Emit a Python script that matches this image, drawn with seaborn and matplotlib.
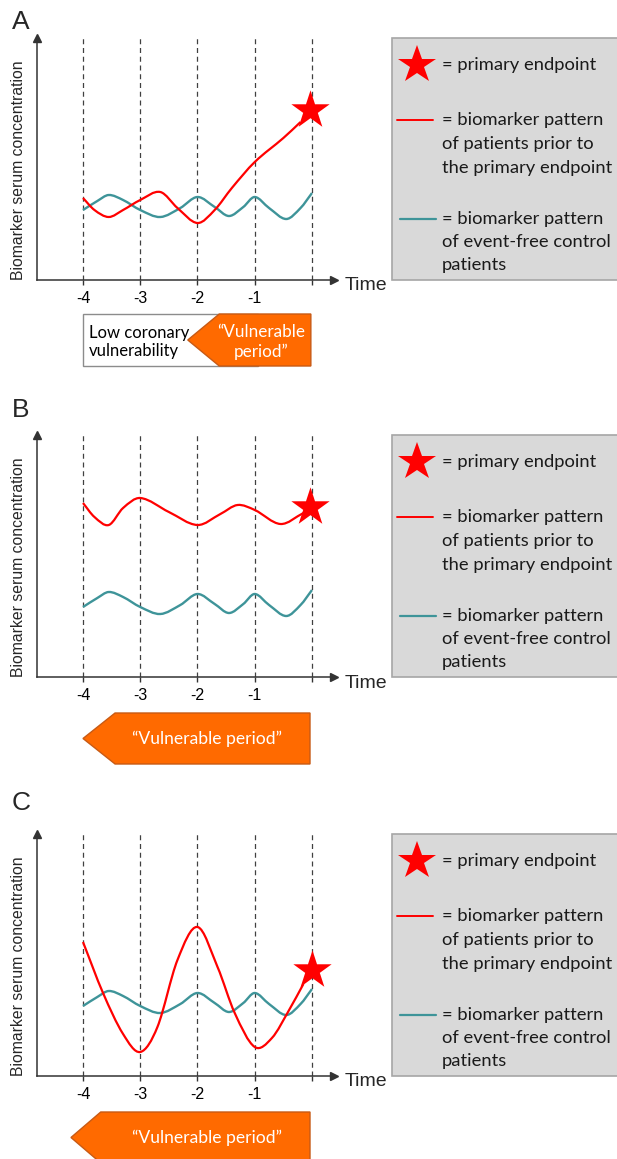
import numpy as np
import matplotlib
matplotlib.use("Agg")
import matplotlib.pyplot as plt
from matplotlib.path import Path
from matplotlib.patches import PathPatch, Polygon, Rectangle
from matplotlib.lines import Line2D
import seaborn as sns


# time before the primary endpoint, and biomarker level (arbitrary units)
control_t = [-4, -3.75, -3.55, -3.3, -3, -2.65, -2.3, -2, -1.7, -1.45, -1.2, -1, -0.75, -0.45, -0.2, 0]
control_h = [70, 79, 85, 80, 70, 63, 72, 83, 73, 64, 73, 83, 72, 61, 72, 87]

case_a_t = [-4, -3.8, -3.55, -3.3, -3, -2.65, -2.35, -2, -1.7, -1.4, -1, -0.5, -0.2]
case_a_h = [82, 70, 63, 70, 80, 88, 72, 57, 70, 92, 118, 142, 158]

case_b_t = [-4, -3.8, -3.55, -3.3, -3, -2.5, -2, -1.6, -1.3, -1, -0.55, -0.15]
case_b_h = [174, 160, 152, 169, 179, 165, 152, 163, 172, 167, 153, 164]

case_c_t = [-4, -3.65, -3.3, -3, -2.7, -2.35, -2, -1.65, -1.35, -1, -0.7, -0.4, -0.15]
case_c_h = [134, 83, 42, 24, 49, 116, 149, 109, 63, 29, 38, 66, 92]

# primary endpoint (star)
star_t = [-0.03, -0.03, 0.0]
star_h = [170, 170, 106]

tick_times = [-4, -3, -2, -1, 0]
tick_labels = ["-4", "-3", "-2", "-1", ""]

# vulnerable period arrow: tip, shoulder, end (time)
period_tip = [-2.17, -4.0, -4.21]
period_shoulder = [-1.62, -3.44, -3.69]
period_end = [-0.02, -0.035, -0.035]
low_risk_span = (-4.0, -0.94)  # panel A only

panel_names = ["A", "B", "C"]
red_curves = [(case_a_t, case_a_h), (case_b_t, case_b_h), (case_c_t, case_c_h)]

RED = "#ff0000"
TEAL = "#3e9499"
ORANGE = "#ff6a00"
DARK = "#333333"

W, H = 617, 1159


def smooth_path(t, h):
    t = np.asarray(t, float)
    h = np.asarray(h, float)
    n = len(t)
    s = np.zeros(n)
    s[1:-1] = (h[2:] - h[:-2]) / (t[2:] - t[:-2])
    s[0] = (h[1] - h[0]) / (t[1] - t[0])
    s[-1] = (h[-1] - h[-2]) / (t[-1] - t[-2])
    verts = [(t[0], h[0])]
    codes = [Path.MOVETO]
    for i in range(n - 1):
        d = t[i + 1] - t[i]
        verts += [(t[i] + d / 3, h[i] + s[i] * d / 3),
                  (t[i + 1] - d / 3, h[i + 1] - s[i + 1] * d / 3),
                  (t[i + 1], h[i + 1])]
        codes += [Path.CURVE4] * 3
    return Path(verts, codes)


sns.set_theme(style="white")
plt.rcParams["font.family"] = ["Liberation Sans", "DejaVu Sans"]
BOX_FONT = ["Lato", "DejaVu Sans"]

fig = plt.figure(figsize=(W / 100, H / 100), dpi=100)

# pixel layout of each panel: x-axis row, letter row
axis_rows = [280, 677, 1076]
letter_rows = [22, 410, 803]
px_per_t = 57.25
t0_px = 312
left_px, right_px = 37, 334
ax_height = 242

for k in range(3):
    base = axis_rows[k]
    ax = fig.add_axes([left_px / W, 1 - base / H, (right_px - left_px) / W, ax_height / H])
    ax.set_xlim((left_px - t0_px) / px_per_t, (right_px - t0_px) / px_per_t)
    ax.set_ylim(0, ax_height)
    ax.set_facecolor("none")
    for side in ["top", "right"]:
        ax.spines[side].set_visible(False)
    for side in ["left", "bottom"]:
        ax.spines[side].set_color(DARK)
        ax.spines[side].set_linewidth(1.1)
    ax.plot(1, 0, ">", color=DARK, ms=6, transform=ax.transAxes, clip_on=False)
    ax.plot(0, 1, "^", color=DARK, ms=6, transform=ax.transAxes, clip_on=False)

    ax.set_xticks(tick_times)
    ax.set_xticklabels(tick_labels)
    ax.set_yticks([])
    ax.tick_params(axis="x", direction="out", length=3.8, width=1, color=DARK,
                   labelsize=11.5, pad=4, labelcolor="black", bottom=True)
    ax.grid(False)

    ax.vlines(tick_times, 0, ax_height, colors="#404040", linewidth=0.9,
              linestyles=(0, (4, 3)))

    ax.add_patch(PathPatch(smooth_path(control_t, control_h), facecolor="none",
                           edgecolor=TEAL, lw=1.7, zorder=3))
    rt, rh = red_curves[k]
    ax.add_patch(PathPatch(smooth_path(rt, rh), facecolor="none",
                           edgecolor=RED, lw=1.6, zorder=4))
    sns.scatterplot(x=[star_t[k]], y=[star_h[k]], marker="*", s=29 ** 2, color=RED,
                    linewidth=0, ax=ax, zorder=5, legend=False)

    ax.text((19 - t0_px) / px_per_t, 110, "Biomarker serum concentration", rotation=90,
            ha="center", va="center", fontsize=11.3, clip_on=False)
    ax.text(0.576, -6, "Time", ha="left", va="center", fontsize=14, clip_on=False)

    # period boxes under the time axis
    top, bot = (-34, -86) if k == 0 else (-36, -87)
    mid = (top + bot) / 2
    if k == 0:
        ax.add_patch(Rectangle((low_risk_span[0], bot), low_risk_span[1] - low_risk_span[0],
                               top - bot, facecolor="white", edgecolor="#8c8c8c",
                               lw=1.0, clip_on=False))
        ax.text(-3.9, mid - 2, "Low coronary\nvulnerability", ha="left", va="center",
                fontsize=12, family=BOX_FONT, color="black", clip_on=False)
    pent = [(period_end[k], top), (period_shoulder[k], top), (period_tip[k], mid),
            (period_shoulder[k], bot), (period_end[k], bot)]
    ax.add_patch(Polygon(pent, closed=True, facecolor=ORANGE, edgecolor="#c85a14",
                         lw=1.0, clip_on=False, zorder=3))
    if k == 0:
        ax.text(-0.89, mid - 2, "\u201cVulnerable\nperiod\u201d", ha="center", va="center",
                fontsize=12.3, family=BOX_FONT, color="white", clip_on=False, zorder=4)
    else:
        ax.text(-1.83, mid, "\u201cVulnerable period\u201d", ha="center", va="center",
                fontsize=12.6, family=BOX_FONT, color="white", clip_on=False, zorder=4)

    # panel letter
    fig.text(12 / W, 1 - letter_rows[k] / H, panel_names[k], ha="left", va="center",
             fontsize=19)

    # key box on the right
    box_top = base - ax_height
    fig.add_artist(Rectangle((392 / W, 1 - base / H), 240 / W, ax_height / H,
                             transform=fig.transFigure, facecolor="#d9d9d9",
                             edgecolor="#a6a6a6", lw=1.2, zorder=0))
    fig.add_artist(Line2D([417 / W], [1 - (box_top + 27) / H], marker="*", markersize=29,
                          color=RED, markeredgewidth=0, transform=fig.transFigure))
    fig.add_artist(Line2D([397 / W, 433 / W], [1 - (box_top + 82) / H] * 2, color=RED,
                          lw=1.4, transform=fig.transFigure))
    fig.add_artist(Line2D([400 / W, 436 / W], [1 - (box_top + 181) / H] * 2, color=TEAL,
                          lw=1.6, transform=fig.transFigure))
    key_lines = [(27, "= primary endpoint"),
                 (82, "= biomarker pattern"), (106, "of patients prior to"),
                 (130, "the primary endpoint"),
                 (181, "= biomarker pattern"), (204, "of event-free control"),
                 (227, "patients")]
    for dy, line in key_lines:
        fig.text(442 / W, 1 - (box_top + dy) / H, line, ha="left", va="center",
                 fontsize=13.2, family=BOX_FONT, color="#1a1a1a")

fig.savefig("out.png", dpi=100)
